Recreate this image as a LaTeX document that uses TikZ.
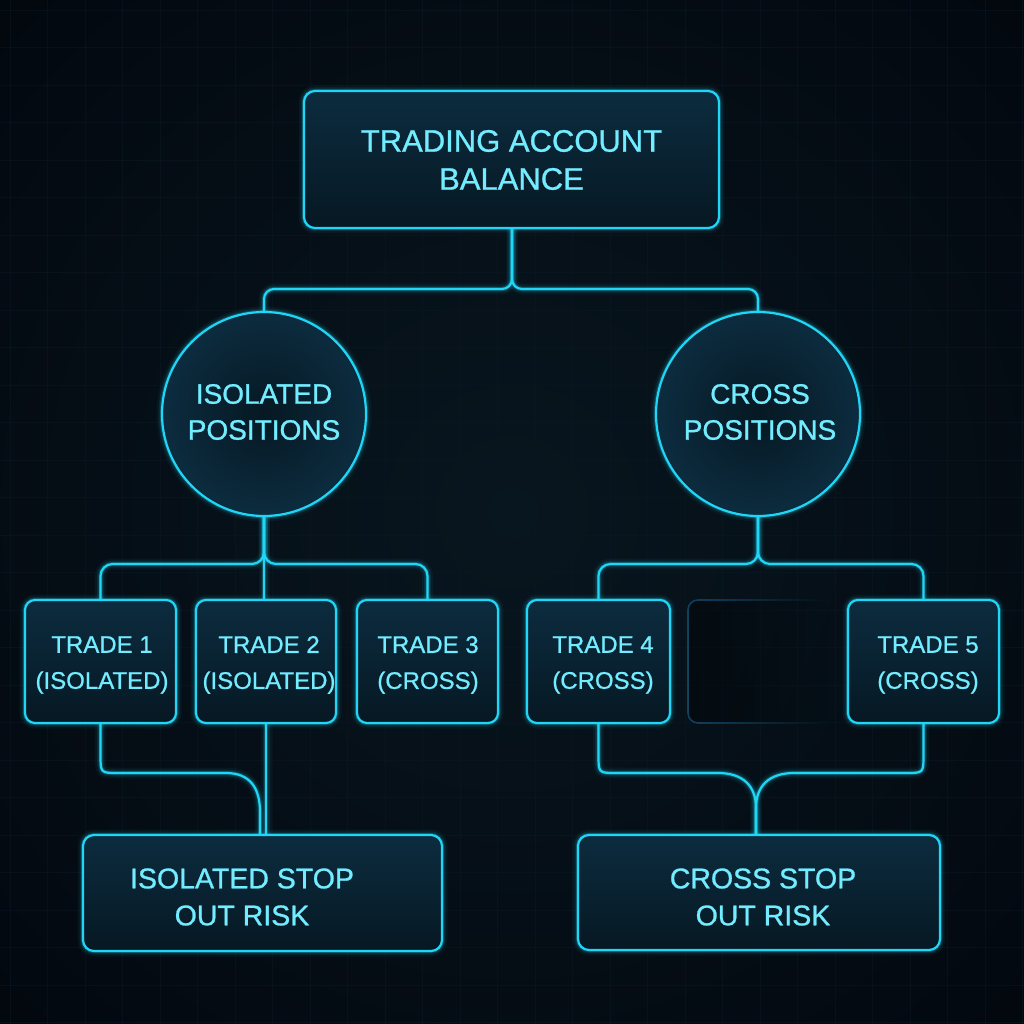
\documentclass[tikz,border=0pt]{standalone}
\usepackage{fontspec}
\setmainfont{Liberation Sans}
\newfontfamily\labfont{Liberation Sans}[FakeBold=0.9]
\usetikzlibrary{fadings,calc}
\definecolor{bgA}{HTML}{03080F}
\definecolor{bgB}{HTML}{08161F}
\definecolor{neon}{HTML}{20D6F6}
\definecolor{txt}{HTML}{72ECFF}
\definecolor{fillA}{HTML}{0C2C3F}
\definecolor{fillB}{HTML}{061823}
\definecolor{gridc}{HTML}{0A1824}
\definecolor{ghostc}{HTML}{124260}
\begin{document}
\begin{tikzpicture}[x=1pt,y=-1pt,
  glow/.style={preaction={draw=neon,line width=11pt,opacity=0.05},
               preaction={draw=neon,line width=7pt,opacity=0.10},
               preaction={draw=neon,line width=4pt,opacity=0.22},
               draw=neon, line width=2.2pt},
  panel/.style={glow, rectangle, rounded corners=11pt, top color=fillA, bottom color=fillB, inner sep=0pt},
  orb/.style={glow, circle, inner color=fillB, outer color=fillA, inner sep=0pt},
  wire/.style={glow, line cap=round},
  lblbig/.style={text=txt, align=center, font=\labfont\fontsize{31}{38}\selectfont, inner sep=0pt},
  lblmid/.style={text=txt, align=center, font=\labfont\fontsize{28}{36}\selectfont, inner sep=0pt},
  lblrisk/.style={text=txt, align=center, font=\labfont\fontsize{28.5}{37}\selectfont, inner sep=0pt},
  lblsmall/.style={text=txt, align=center, font=\labfont\fontsize{24}{36}\selectfont, inner sep=0pt}
]
% background
\useasboundingbox (0,0) rectangle (1024,1024);
\fill[bgA] (0,0) rectangle (1024,1024);
\shade[inner color=bgB, outer color=bgA] (-200,-200) rectangle (1224,1224);
\foreach \i in {0,...,27} {
  \draw[gridc, line width=0.6pt, opacity=0.5] (\i*37.5+10,0) -- (\i*37.5+10,1024);
  \draw[gridc, line width=0.6pt, opacity=0.5] (0,\i*37.5+10) -- (1024,\i*37.5+10);
}

% connector coordinates
\coordinate (tsplit) at (512,289);
\coordinate (isplit) at (264,564);
\coordinate (csplit) at (758,564);

% top connectors (drawn first, under nodes)
\draw[wire, rounded corners=10pt] (512,228) -- (tsplit) -| (264,313);
\draw[wire, rounded corners=10pt] (512,228) -- (tsplit) -| (758,313);

% nodes
\node[panel, minimum width=415, minimum height=137] (acct) at (511.5,159.5) {};
\node[lblbig] (acctT) at (511.5,160) {TRADING ACCOUNT\\BALANCE};

\node[orb, minimum size=204] (iso) at (264,414) {};
\node[lblmid] (isoT) at (264,412) {ISOLATED\\POSITIONS};
\node[orb, minimum size=204] (cross) at (758,414) {};
\node[lblmid] (crossT) at (760,412) {CROSS\\POSITIONS};

\node[panel, rounded corners=10pt, minimum width=151, minimum height=123] (t1) at (100.5,661.5) {};
\node[lblsmall] (t1T) at (102,665) {TRADE 1\\(ISOLATED)};
\node[panel, rounded corners=10pt, minimum width=140, minimum height=123] (t2) at (266,661.5) {};
\node[lblsmall] (t2T) at (269,665) {TRADE 2\\(ISOLATED)};
\node[panel, rounded corners=10pt, minimum width=141, minimum height=123] (t3) at (427.5,661.5) {};
\node[lblsmall] (t3T) at (428,665) {TRADE 3\\(CROSS)};
\node[panel, rounded corners=10pt, minimum width=143, minimum height=123] (t4) at (598.5,661.5) {};
\node[lblsmall] (t4T) at (603,665) {TRADE 4\\(CROSS)};
\node[rectangle, draw=ghostc, line width=1.6pt, fill=black, fill opacity=0.35, rounded corners=10pt,
      minimum width=141, minimum height=123, path fading=east] (ghost) at (758.5,661.5) {};
\node[panel, rounded corners=10pt, minimum width=151, minimum height=123] (t5) at (923.5,661.5) {};
\node[lblsmall] (t5T) at (928,665) {TRADE 5\\(CROSS)};

\node[panel, minimum width=359, minimum height=116] (isorisk) at (262.5,893) {};
\node[lblrisk] (isoriskT) at (242,897) {ISOLATED STOP\\OUT RISK};
\node[panel, minimum width=362, minimum height=115] (crossrisk) at (759,892.5) {};
\node[lblrisk] (crossriskT) at (763,897) {CROSS STOP\\OUT RISK};

% end coordinates for merges
\coordinate (irL) at ($(isorisk.north)+(-2.5,0)$);
\coordinate (crM) at ($(crossrisk.north)+(-3,0)$);

% circle to trades
\draw[wire, rounded corners=12pt] (iso.south) -- (isplit) -| (t1.north);
\draw[wire] (iso.south) -- (iso.south |- t2.north);
\draw[wire, rounded corners=12pt] (iso.south) -- (isplit) -| (t3.north);
\draw[wire, rounded corners=12pt] (cross.south) -- (csplit) -| (t4.north);
\draw[wire, rounded corners=12pt] (cross.south) -- (csplit) -| (t5.north);

% trades to risk boxes
\draw[wire] (t1.south) -- (100.5,755) .. controls (100.5,773) .. (118.5,773) -- (226,773)
  .. controls (250,773) and (260,788) .. (260,812) -- (irL);
\draw[wire] (t2.south) -- (t2.south |- isorisk.north);
\draw[wire] (t4.south) -- (598.5,755) .. controls (598.5,773) .. (616.5,773) -- (718,773)
  .. controls (743,773) and (756,786) .. (756,808) -- (crM);
\draw[wire] (t5.south) -- (923.5,755) .. controls (923.5,773) .. (905.5,773) -- (794,773)
  .. controls (769,773) and (756,786) .. (756,808) -- (crM);
\end{tikzpicture}
\end{document}
